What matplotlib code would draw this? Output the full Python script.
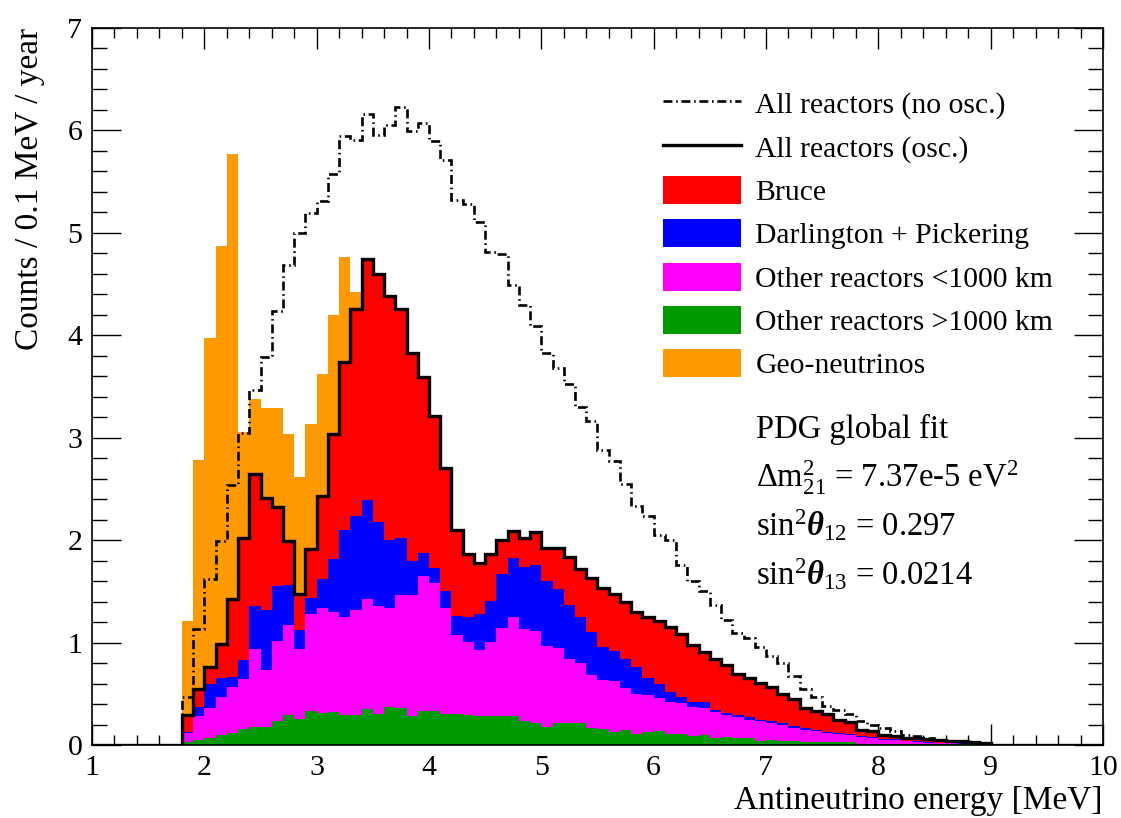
import numpy as np
import matplotlib.pyplot as plt
from matplotlib.lines import Line2D
from matplotlib.patches import Patch
from matplotlib.ticker import MultipleLocator

plt.rcParams['font.family'] = ['Liberation Serif', 'DejaVu Serif']
plt.rcParams['mathtext.fontset'] = 'custom'
plt.rcParams['mathtext.rm'] = 'Liberation Serif'
plt.rcParams['mathtext.it'] = 'Liberation Serif:italic:bold'
plt.rcParams['mathtext.bf'] = 'Liberation Serif:bold'

# histogram binning: 0.1 MeV bins, filled bins start at 1.8 MeV
e_lo, e_hi, bin_w = 1.0, 10.0, 0.1
first_bin = 1.8

# counts / 0.1 MeV / year, bins 1.8 ... 8.9 MeV
far_1000 = [0.03, 0.05, 0.07, 0.10, 0.12, 0.16, 0.18, 0.18, 0.23, 0.29,
            0.25, 0.33, 0.31, 0.32, 0.29, 0.29, 0.35, 0.30, 0.37, 0.36,
            0.28, 0.33, 0.33, 0.30, 0.30, 0.29, 0.28, 0.28, 0.28, 0.28,
            0.23, 0.21, 0.18, 0.21, 0.21, 0.21, 0.17, 0.16, 0.13, 0.15,
            0.11, 0.13, 0.14, 0.11, 0.11, 0.09, 0.10, 0.07, 0.08, 0.065,
            0.065, 0.04, 0.05, 0.04, 0.035, 0.03, 0.03, 0.03, 0.03, 0.03,
            0.01, 0.01, 0.01, 0.01, 0.01, 0.01, 0.01, 0.01, 0.005, 0.005,
            0.005, 0.003]

near_1000 = [0.09, 0.23, 0.29, 0.37, 0.45, 0.48, 0.76, 0.55, 0.79, 0.88,
             0.69, 0.95, 1.03, 0.98, 0.96, 1.03, 1.08, 1.06, 0.97, 1.10,
             1.18, 1.32, 1.25, 1.04, 0.77, 0.72, 0.65, 0.73, 0.86, 0.97,
             0.90, 0.90, 0.79, 0.74, 0.63, 0.59, 0.51, 0.47, 0.49, 0.41,
             0.39, 0.36, 0.32, 0.31, 0.30, 0.28, 0.26, 0.25, 0.21, 0.205,
             0.175, 0.19, 0.16, 0.16, 0.135, 0.12, 0.11, 0.09, 0.08, 0.07,
             0.07, 0.055, 0.04, 0.035, 0.025, 0.02, 0.01, 0.01, 0.01, 0.005,
             0.005, 0.002]

darl_pick = [0.01, 0.09, 0.24, 0.18, 0.09, 0.19, 0.42, 0.59, 0.53, 0.39,
             0.18, 0.16, 0.28, 0.52, 0.85, 0.92, 0.96, 0.82, 0.66, 0.56,
             0.34, 0.22, 0.15, 0.16, 0.19, 0.24, 0.35, 0.40, 0.53, 0.58,
             0.61, 0.65, 0.63, 0.57, 0.53, 0.45, 0.42, 0.33, 0.30, 0.28,
             0.26, 0.16, 0.14, 0.10, 0.06, 0.05, 0.06, 0.02, 0.02, 0.02,
             0.03, 0.01, 0.02, 0.01, 0.02, 0.02, 0.01, 0.01, 0.01, 0.01,
             0.01, 0.015, 0.01, 0.01, 0.005, 0.005, 0.005, 0.0, 0.0, 0.005,
             0.0, 0.0]

bruce = [0.16, 0.18, 0.16, 0.34, 0.77, 1.19, 1.29, 1.09, 0.77, 0.43,
         0.35, 0.47, 0.81, 1.22, 1.64, 2.02, 2.35, 2.42, 2.38, 2.24,
         2.03, 1.72, 1.48, 1.20, 0.84, 0.61, 0.50, 0.45, 0.33, 0.26,
         0.28, 0.32, 0.32, 0.40, 0.47, 0.47, 0.53, 0.57, 0.55, 0.56,
         0.54, 0.60, 0.61, 0.63, 0.61, 0.56, 0.49, 0.50, 0.47, 0.40,
         0.38, 0.37, 0.34, 0.29, 0.26, 0.19, 0.18, 0.17, 0.12, 0.11,
         0.06, 0.06, 0.04, 0.035, 0.03, 0.03, 0.03, 0.03, 0.025, 0.02,
         0.02, 0.01]

# geo-neutrinos stop at 3.3 MeV
geo = [0.92, 2.23, 3.21, 3.88, 4.34, 1.04, 0.73, 0.88, 0.97, 1.05,
       1.15, 1.22, 1.19, 1.16, 1.02, 0.16]

no_osc = [0.47, 1.13, 1.62, 1.99, 2.54, 3.05, 3.47, 3.79, 4.24, 4.69,
          5.00, 5.19, 5.31, 5.57, 5.95, 5.91, 6.16, 5.96, 6.05, 6.23,
          5.99, 6.07, 5.90, 5.71, 5.32, 5.28, 5.11, 4.81, 4.79, 4.49,
          4.30, 4.09, 3.83, 3.68, 3.52, 3.30, 3.16, 2.88, 2.77, 2.55,
          2.33, 2.24, 2.05, 2.00, 1.76, 1.60, 1.50, 1.37, 1.22, 1.09,
          1.04, 0.96, 0.87, 0.80, 0.67, 0.55, 0.47, 0.38, 0.34, 0.30,
          0.23, 0.20, 0.17, 0.14, 0.10, 0.09, 0.07, 0.05, 0.04, 0.03,
          0.025, 0.015]

labels = ['All reactors (no osc.)', 'All reactors (osc.)', 'Bruce',
          'Darlington + Pickering', 'Other reactors <1000 km',
          'Other reactors >1000 km', 'Geo-neutrinos']

edges = np.round(e_lo + bin_w * np.arange(int(round((e_hi - e_lo) / bin_w)) + 1), 1)
nbins = len(edges) - 1
i0 = int(round((first_bin - e_lo) / bin_w))


def pad(vals):
    out = np.zeros(nbins)
    out[i0:i0 + len(vals)] = vals
    return out


osc = pad(far_1000) + pad(near_1000) + pad(darl_pick) + pad(bruce)

c_far, c_near, c_dp, c_bruce, c_geo = '#009900', '#ff00ff', '#0000ff', '#ff0000', '#ff9900'
dashdot = (0, (3.4, 1.4, 0.6, 1.4))
lw_dd, lw_osc = 1.9, 2.4

fig = plt.figure(figsize=(11.21, 8.18), dpi=100)
W, H = 1121, 818
ax = fig.add_axes([92 / W, 1 - 745 / H, (1103 - 92) / W, (745 - 28) / H])

# stacked fills, bottom to top
bottom = np.zeros(nbins)
for vals, col in [(far_1000, c_far), (near_1000, c_near), (darl_pick, c_dp),
                  (bruce, c_bruce), (geo, c_geo)]:
    top = bottom + pad(vals)
    ax.stairs(top, edges, baseline=bottom, fill=True, color=col, lw=0, zorder=2.6)
    bottom = top

ax.stairs(pad(no_osc), edges, color='k', lw=lw_dd, ls=dashdot, zorder=3.4)
ax.stairs(osc, edges, color='k', lw=lw_osc, zorder=3.5)

ax.set_xlim(e_lo, e_hi)
ax.set_ylim(0, 7)
ax.xaxis.set_major_locator(MultipleLocator(1))
ax.xaxis.set_minor_locator(MultipleLocator(0.2))
ax.yaxis.set_major_locator(MultipleLocator(1))
ax.yaxis.set_minor_locator(MultipleLocator(0.2))
ax.tick_params(which='both', direction='in', top=True, right=True, width=1.0,
               labelsize=21.5)
ax.tick_params(axis='x', which='major', length=15, pad=7)
ax.tick_params(axis='x', which='minor', length=7.5)
ax.tick_params(axis='y', which='major', length=21, pad=7)
ax.tick_params(axis='y', which='minor', length=10.5)
for sp in ax.spines.values():
    sp.set_linewidth(1.2)
    sp.set_zorder(5)

fig.text(30 / W, 1 - 28 / H, 'Counts / 0.1 MeV / year', rotation=90,
         ha='center', va='top', fontsize=24)
fig.text(1103 / W, 1 - 801 / H, 'Antineutrino energy [MeV]',
         ha='right', va='center', fontsize=24)

handles = [Line2D([], [], color='k', lw=lw_dd, ls=dashdot),
           Line2D([], [], color='k', lw=lw_osc),
           Patch(facecolor=c_bruce), Patch(facecolor=c_dp),
           Patch(facecolor=c_near), Patch(facecolor=c_far),
           Patch(facecolor=c_geo)]
fig.legend(handles, labels, loc='upper left',
           bbox_to_anchor=(663 / W, 1 - 89 / H), frameon=False, fontsize=21.3,
           handlelength=2.62, handleheight=1.08, handletextpad=0.5,
           labelspacing=0.445, borderpad=0, borderaxespad=0)

fit_lines = ['PDG global fit',
             r'$\Delta\mathrm{m}^{2}_{21}$ = 7.37e-5 eV$^{2}$',
             r'sin$^{2}\theta_{12}$ = 0.297',
             r'sin$^{2}\theta_{13}$ = 0.0214']
for txt, yb in zip(fit_lines, [438, 487, 536, 585]):
    fig.text(756 / W, 1 - yb / H, txt, ha='left', va='baseline', fontsize=23.5)

fig.savefig('out.png', dpi=100, facecolor='white')
